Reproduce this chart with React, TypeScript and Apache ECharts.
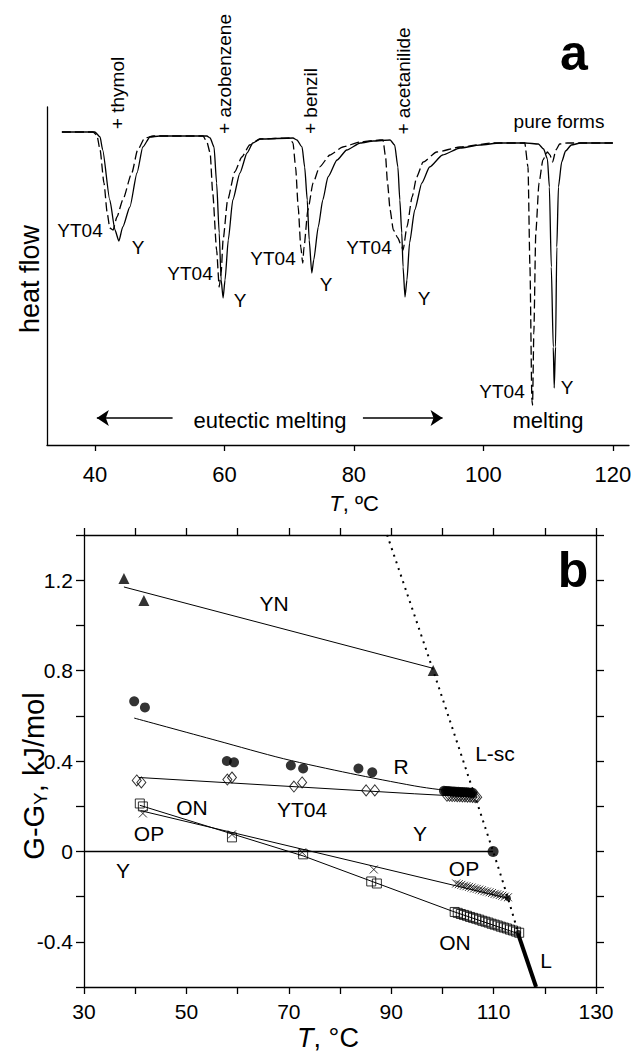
import React, { useEffect, useRef } from "react";
import * as echarts from "echarts";

const FONT = '"Liberation Sans", Arial, Helvetica, sans-serif';
const BLACK = "#000";

// ---------- Panel a: DSC traces [T (°C), heat flow (arb. units)] ----------
const dscY: number[][] = [
  [34.9, -2.5], [40, -2.5], [40.8, -3.0], [41.2, -4.3], [42.3, -9.3], [43.1, -12.3], [43.7, -13.4],
  [44.3, -12.0], [45.4, -10.0], [46.5, -6.6], [47.4, -4.0], [48.5, -3.0], [50, -2.9], [57.3, -2.9],
  [57.8, -3.1], [58.4, -4.0], [58.8, -7.6], [59.2, -12.6], [59.5, -17.3], [59.8, -19.1], [60.1, -17.3],
  [60.6, -13.3], [61.3, -9.3], [62.4, -6.6], [63.5, -4.6], [64.4, -3.6], [65.5, -3.2], [70.6, -3.1],
  [71.2, -3.3], [72, -4.0], [72.4, -6.0], [72.8, -9.3], [73.1, -13.3], [73.5, -16.6], [73.8, -15.3],
  [74.5, -12.0], [75.2, -9.3], [76, -7.0], [77.4, -5.3], [78.9, -4.3], [81, -3.6], [83, -3.4],
  [85.6, -3.3], [86.3, -3.8], [86.8, -6.0], [87.1, -9.3], [87.4, -12.6], [87.6, -16.0], [87.9, -19.0],
  [88.2, -17.3], [88.6, -13.6], [89.4, -10.3], [90.5, -7.6], [91.7, -6.0], [93.7, -4.8], [96.4, -4.1],
  [99.5, -3.8], [102.5, -3.6], [106.5, -3.6], [108.5, -3.7], [109.3, -4.2], [109.9, -5.2], [110.2, -8.0],
  [110.5, -16.0], [110.8, -24.0], [110.95, -28.1], [111.15, -24.0], [111.35, -14.0], [111.6, -8.0],
  [112.1, -5.5], [112.7, -4.4], [113.6, -3.8], [115, -3.6], [120, -3.6],
];
const dscYT04: number[][] = [
  [34.9, -2.5], [39.7, -2.5], [40.3, -2.8], [40.8, -4.3], [41.4, -7.6], [41.9, -10.6], [42.3, -12.1],
  [42.8, -12.3], [43.4, -11.0], [44.3, -9.3], [45.7, -6.6], [46.6, -4.3], [47.7, -3.1], [49, -2.9],
  [56.7, -2.9], [57.3, -3.5], [57.8, -4.6], [58.2, -8.6], [58.8, -14.3], [59.2, -18.0], [59.5, -16.6],
  [59.8, -13.3], [60.5, -9.3], [61.6, -6.5], [62.7, -5.0], [63.9, -3.8], [65.5, -3.2], [70.1, -3.1],
  [70.6, -3.6], [71, -6.0], [71.4, -10.0], [71.8, -14.0], [72.1, -15.6], [72.3, -14.0], [72.9, -10.3],
  [73.7, -7.6], [74.7, -6.0], [76.3, -4.8], [78.3, -4.0], [80.9, -3.5], [84, -3.3], [84.5, -3.3],
  [84.9, -5.0], [85.2, -7.6], [85.6, -10.3], [86.1, -12.3], [86.8, -13.1], [87.4, -14.0], [87.6, -14.3],
  [88.2, -12.0], [89, -9.0], [89.7, -7.0], [90.7, -5.5], [92.8, -4.5], [96.4, -4.0], [101.5, -3.6],
  [106.4, -3.6], [106.9, -6.0], [107.2, -16.0], [107.5, -29.3], [107.6, -29.8], [107.8, -22.6],
  [108.1, -12.6], [108.6, -7.6], [109.2, -5.3], [109.9, -4.5], [110.3, -4.8], [110.7, -5.5],
  [111.2, -4.3], [111.8, -3.7], [113, -3.6], [120, -3.6],
];
const xTicksA = [40, 60, 80, 100, 120];
const arrowLevelA = -31.1;
const arrowsA: number[][] = [
  [52.0, 40.3],
  [81.4, 93.7],
];

// ---------- Panel b: G - G_Y (kJ/mol) vs T (°C) ----------
const ynPts: number[][] = [[37.8, 1.208], [41.7, 1.11], [98.2, 0.8]];
const ynFit: number[][] = [[37.8, 1.17], [98.2, 0.81]];

const rPts: number[][] = [
  [39.8, 0.664], [41.9, 0.637], [57.9, 0.4], [59.3, 0.394], [70.4, 0.38], [72.8, 0.367],
  [83.6, 0.367], [86.3, 0.35],
  [100.3, 0.268], [100.7, 0.267], [101.1, 0.267], [101.5, 0.266], [101.9, 0.265], [102.3, 0.265],
  [102.7, 0.264], [103.1, 0.264], [103.5, 0.263], [103.9, 0.263], [104.3, 0.262], [104.7, 0.262],
  [105.1, 0.261], [105.5, 0.26], [105.9, 0.259],
];
const rFit: number[][] = [
  [39.8, 0.59], [56, 0.49], [69, 0.41], [82, 0.345], [94.5, 0.29], [99.3, 0.274], [105.9, 0.259],
];

const yt04Pts: number[][] = [
  [40.3, 0.314], [41.2, 0.305], [58.0, 0.318], [58.9, 0.327], [71.0, 0.287], [72.6, 0.305],
  [85.1, 0.27], [86.8, 0.27],
  [100.9, 0.246], [101.4, 0.246], [101.9, 0.245], [102.4, 0.245], [102.9, 0.244], [103.4, 0.244],
  [103.9, 0.243], [104.4, 0.243], [104.9, 0.242], [105.4, 0.242], [105.9, 0.241], [106.4, 0.24],
  [106.8, 0.24],
];
const yt04Fit: number[][] = [[40.7, 0.327], [94.5, 0.255], [106.8, 0.24]];

const opPts: number[][] = [
  [41.5, 0.168], [58.9, 0.075], [72.6, -0.004], [86.6, -0.08],
  [102.7, -0.142], [103.2, -0.145], [103.7, -0.148], [104.2, -0.152], [104.7, -0.154], [105.2, -0.157],
  [105.7, -0.16], [106.2, -0.164], [106.7, -0.166], [107.2, -0.169], [107.7, -0.172], [108.2, -0.176],
  [108.7, -0.178], [109.2, -0.181], [109.7, -0.184], [110.2, -0.188], [110.7, -0.19], [111.2, -0.193],
  [111.7, -0.196], [112.2, -0.2], [112.8, -0.203],
];
const opFit: number[][] = [[41.1, 0.18], [112.8, -0.207]];

const onPts: number[][] = [
  [40.9, 0.212], [41.5, 0.199], [58.9, 0.062], [72.8, -0.013], [86.1, -0.133], [87.2, -0.142],
  [102.4, -0.268], [103.0, -0.272], [103.6, -0.277], [104.2, -0.281], [104.8, -0.285], [105.4, -0.29],
  [106.0, -0.294], [106.6, -0.298], [107.2, -0.302], [107.8, -0.307], [108.4, -0.311], [109.0, -0.315],
  [109.6, -0.32], [110.2, -0.324], [110.8, -0.328], [111.4, -0.333], [112.0, -0.337], [112.6, -0.341],
  [113.2, -0.346], [113.8, -0.35], [114.4, -0.355], [115.0, -0.36],
];
const onFit: number[][] = [[40.9, 0.204], [72.8, -0.02], [102, -0.265], [115.2, -0.367]];

const yLine: number[][] = [[30, 0], [109.9, 0]];
const liquidLine: number[][] = [[114.8, -0.366], [118.3, -0.6]];
const lscLine: number[][] = [[89.2, 1.4], [98.2, 0.8], [109.9, 0], [112.8, -0.207], [114.8, -0.36]];
const meltBig: number[][] = [[109.9, 0]];
const meltSmall: number[][] = [[112.8, -0.207], [114.8, -0.36]];

const xLabelsB = [30, 50, 70, 90, 110, 130];
const yTicksB = [-0.6, -0.4, -0.2, 0, 0.2, 0.4, 0.6, 0.8, 1.0, 1.2, 1.4];
const yLabelsB = [-0.4, 0, 0.4, 0.8, 1.2];

// ---------- Annotations (text) ----------
type Ann = { t: string; x: number; y: number; s: number; r?: number; b?: boolean };
const annotations: Ann[] = [
  { t: "+ thymol", x: 117, y: 93, s: 19, r: 90 },
  { t: "+ azobenzene", x: 224, y: 74, s: 19, r: 90 },
  { t: "+ benzil", x: 310, y: 101, s: 19, r: 90 },
  { t: "+ acetanilide", x: 403, y: 81, s: 19, r: 90 },
  { t: "pure forms", x: 559, y: 121, s: 19 },
  { t: "YT04", x: 80, y: 230, s: 19 },
  { t: "Y", x: 138, y: 247, s: 19 },
  { t: "YT04", x: 190, y: 273, s: 19 },
  { t: "Y", x: 240, y: 300, s: 19 },
  { t: "YT04", x: 273, y: 258, s: 19 },
  { t: "Y", x: 326, y: 284, s: 19 },
  { t: "YT04", x: 369, y: 247, s: 19 },
  { t: "Y", x: 424, y: 298, s: 19 },
  { t: "YT04", x: 502, y: 391, s: 19 },
  { t: "Y", x: 567, y: 387, s: 19 },
  { t: "eutectic melting", x: 270, y: 420, s: 22 },
  { t: "melting", x: 548, y: 420, s: 22 },
  { t: "heat flow", x: 30, y: 279, s: 27, r: 90 },
  { t: "a", x: 574, y: 53, s: 50, b: true },
  { t: "b", x: 573, y: 570, s: 50, b: true },
  { t: "YN", x: 274, y: 603, s: 21 },
  { t: "R", x: 401, y: 766, s: 21 },
  { t: "L-sc", x: 495, y: 753, s: 21 },
  { t: "ON", x: 192, y: 807, s: 21 },
  { t: "YT04", x: 302, y: 809, s: 21 },
  { t: "OP", x: 149, y: 833, s: 21 },
  { t: "Y", x: 420, y: 833, s: 21 },
  { t: "Y", x: 123, y: 870, s: 21 },
  { t: "OP", x: 464, y: 868, s: 21 },
  { t: "ON", x: 455, y: 942, s: 21 },
  { t: "L", x: 546, y: 960, s: 21 },
];

const crossPath = "path://M0,0L10,10M10,0L0,10";

export default function App() {
  const ref = useRef<HTMLDivElement>(null);

  useEffect(() => {
    if (!ref.current) return;
    const chart = echarts.init(ref.current, undefined, { renderer: "svg" });
    const axisLineStyle = { color: BLACK, width: 1.3 };

    const graphicTexts: any[] = annotations.map((a) => ({
      type: "text",
      x: a.x,
      y: a.y,
      rotation: a.r ? (a.r * Math.PI) / 180 : 0,
      silent: true,
      style: {
        text: a.t,
        fill: BLACK,
        fontSize: a.s,
        fontFamily: FONT,
        fontWeight: a.b ? "bold" : "normal",
        align: "center",
        verticalAlign: "middle",
      },
    }));
    graphicTexts.push({
      type: "text",
      x: 354,
      y: 503,
      silent: true,
      style: {
        text: "{i|T}{n|, ºC}",
        align: "center",
        verticalAlign: "middle",
        fill: BLACK,
        rich: {
          i: { fontSize: 22, fontStyle: "italic", fontFamily: FONT, fill: BLACK },
          n: { fontSize: 22, fontFamily: FONT, fill: BLACK },
        },
      },
    });
    graphicTexts.push({
      type: "text",
      x: 328,
      y: 1038,
      silent: true,
      style: {
        text: "{i|T}{n|, °C}",
        align: "center",
        verticalAlign: "middle",
        fill: BLACK,
        rich: {
          i: { fontSize: 27, fontStyle: "italic", fontFamily: FONT, fill: BLACK },
          n: { fontSize: 27, fontFamily: FONT, fill: BLACK },
        },
      },
    });
    graphicTexts.push({
      type: "text",
      x: 34,
      y: 776,
      rotation: Math.PI / 2,
      silent: true,
      style: {
        text: "{a|G-G}{s|Y}{a|, kJ/mol}",
        align: "center",
        verticalAlign: "middle",
        fill: BLACK,
        rich: {
          a: { fontSize: 29, fontFamily: FONT, fill: BLACK, lineHeight: 31 },
          s: { fontSize: 19, fontFamily: FONT, fill: BLACK, lineHeight: 10, verticalAlign: "bottom" },
        },
      },
    });

    const lineSeries = (data: number[][], width = 1, extra: any = {}) => ({
      type: "line",
      xAxisIndex: 1,
      yAxisIndex: 1,
      data,
      showSymbol: false,
      symbol: "none",
      silent: true,
      lineStyle: { color: BLACK, width, ...(extra.lineStyle || {}) },
      smooth: extra.smooth || false,
      z: 2,
    });
    const scatter = (data: number[][], symbol: string, size: any, filled: boolean, bw = 1) => ({
      type: "scatter",
      xAxisIndex: 1,
      yAxisIndex: 1,
      data,
      symbol,
      symbolSize: size,
      silent: true,
      itemStyle: filled
        ? { color: BLACK, borderColor: BLACK, borderWidth: 0 }
        : { color: "transparent", borderColor: BLACK, borderWidth: bw },
      z: 3,
    });

    const option: any = {
      animation: false,
      backgroundColor: "#fff",
      textStyle: { fontFamily: FONT, color: BLACK },
      grid: [
        { left: 47, top: 107, width: 582, height: 338, containLabel: false, outerBoundsMode: "none" },
        { left: 84, top: 535, width: 512, height: 452, containLabel: false, outerBoundsMode: "none" },
      ],
      xAxis: [
        {
          type: "value",
          gridIndex: 0,
          min: 32.6,
          max: 122.5,
          axisLine: { show: true, onZero: false, lineStyle: axisLineStyle },
          axisTick: { show: true, customValues: xTicksA, length: 6, lineStyle: axisLineStyle },
          axisLabel: { customValues: xTicksA, fontSize: 22, margin: 18, color: BLACK, fontFamily: FONT },
          splitLine: { show: false },
        },
        {
          type: "value",
          gridIndex: 1,
          position: "bottom",
          min: 30,
          max: 130,
          interval: 10,
          axisLine: { show: true, onZero: false, lineStyle: axisLineStyle },
          axisTick: { show: true, length: 7, lineStyle: axisLineStyle },
          axisLabel: { customValues: xLabelsB, fontSize: 21, margin: 14, color: BLACK, fontFamily: FONT },
          splitLine: { show: false },
        },
        {
          type: "value",
          gridIndex: 1,
          position: "top",
          min: 30,
          max: 130,
          interval: 10,
          axisLine: { show: true, onZero: false, lineStyle: axisLineStyle },
          axisTick: { show: true, length: 7, lineStyle: axisLineStyle },
          axisLabel: { show: false },
          splitLine: { show: false },
        },
      ],
      yAxis: [
        {
          type: "value",
          gridIndex: 0,
          min: -33.8,
          max: 0,
          axisLine: { show: true, onZero: false, lineStyle: axisLineStyle },
          axisTick: { show: false },
          axisLabel: { show: false },
          splitLine: { show: false },
        },
        {
          type: "value",
          gridIndex: 1,
          position: "left",
          min: -0.6,
          max: 1.4,
          axisLine: { show: true, onZero: false, lineStyle: axisLineStyle },
          axisTick: { show: true, customValues: yTicksB, length: 8, lineStyle: axisLineStyle },
          axisLabel: {
            customValues: yLabelsB,
            fontSize: 21,
            margin: 11,
            color: BLACK,
            fontFamily: FONT,
            formatter: (v: number) => (Math.abs(v) < 1e-9 ? "0" : v.toFixed(1)),
          },
          splitLine: { show: false },
        },
        {
          type: "value",
          gridIndex: 1,
          position: "right",
          min: -0.6,
          max: 1.4,
          axisLine: { show: true, onZero: false, lineStyle: axisLineStyle },
          axisTick: { show: true, customValues: yTicksB, length: 8, lineStyle: axisLineStyle },
          axisLabel: { show: false },
          splitLine: { show: false },
        },
      ],
      series: [
        {
          type: "line",
          xAxisIndex: 0,
          yAxisIndex: 0,
          data: dscY,
          showSymbol: false,
          symbol: "none",
          silent: true,
          smooth: 0.2,
          smoothMonotone: "x",
          lineStyle: { color: BLACK, width: 1.3 },
          markLine: {
            silent: true,
            symbol: ["none", "arrow"],
            symbolSize: 12,
            label: { show: false },
            itemStyle: { color: BLACK },
            lineStyle: { color: BLACK, width: 1.5, type: "solid" },
            emphasis: { disabled: true },
            data: arrowsA.map(([a, b]) => [
              { coord: [a, arrowLevelA] },
              { coord: [b, arrowLevelA] },
            ]),
          },
        },
        {
          type: "line",
          xAxisIndex: 0,
          yAxisIndex: 0,
          data: dscYT04,
          showSymbol: false,
          symbol: "none",
          silent: true,
          smooth: 0.2,
          smoothMonotone: "x",
          lineStyle: { color: BLACK, width: 1.3, type: [9, 4] },
        },
        lineSeries(ynFit, 1),
        lineSeries(rFit, 1, { smooth: 0.3 }),
        lineSeries(yt04Fit, 1),
        lineSeries(opFit, 1),
        lineSeries(onFit, 1),
        lineSeries(yLine, 1.5),
        lineSeries(liquidLine, 4),
        lineSeries(lscLine, 2, { lineStyle: { type: [2, 5] }, smooth: 0.3 }),
        scatter(ynPts, "triangle", 11, true),
        scatter(rPts, "circle", 10, true),
        scatter(yt04Pts, "diamond", [9, 11], false),
        scatter(opPts, crossPath, 8, false, 1),
        scatter(onPts, "rect", 9, false),
        scatter(meltBig, "circle", 11, true),
        scatter(meltSmall, "circle", 6, true),
      ],
      graphic: graphicTexts,
    };

    chart.setOption(option);
    return () => chart.dispose();
  }, []);

  return (
    <div
      ref={ref}
      style={{ position: "absolute", left: 0, top: 0, width: 633, height: 1053, background: "#fff" }}
    />
  );
}
